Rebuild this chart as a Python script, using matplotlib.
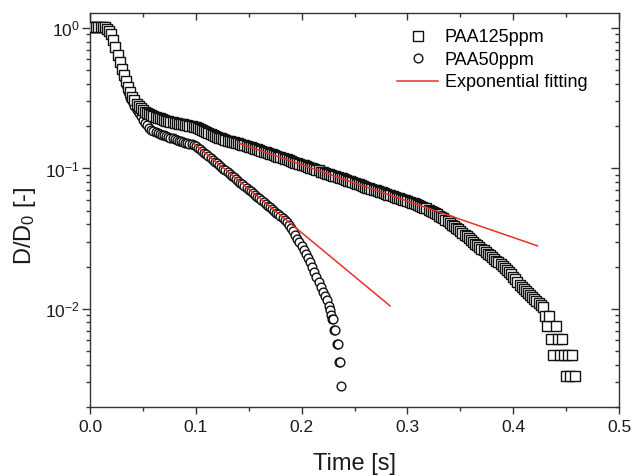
import matplotlib
matplotlib.use("Agg")
import matplotlib.pyplot as plt
from matplotlib.ticker import MultipleLocator, LogLocator, NullFormatter

plt.rcParams['font.family'] = ['Liberation Sans', 'DejaVu Sans']
plt.rcParams['mathtext.fontset'] = 'custom'
plt.rcParams['mathtext.rm'] = 'Liberation Sans'
plt.rcParams['mathtext.it'] = 'Liberation Sans:italic'

# PAA125ppm (squares): time in ms and D/D0
t_ms_125 = [
    0, 2, 4, 6, 8, 10, 12, 14, 16, 18, 20, 22, 24, 26, 28, 30, 32, 34, 36, 38,
    40, 42, 44, 46, 48, 50, 52, 54, 56, 58, 60, 62, 64, 66, 68, 70, 72, 74, 76, 78,
    80, 82, 84, 86, 88, 90, 92, 94, 96, 98, 100, 102, 104, 106, 108, 110, 112, 114, 116, 118,
    120, 122, 124, 126, 128, 130, 132, 134, 136, 138, 140, 142, 144, 146, 148, 150, 152, 154, 156, 158,
    160, 162, 164, 166, 168, 170, 172, 174, 176, 178, 180, 182, 184, 186, 188, 190, 192, 194, 196, 198,
    200, 202, 204, 206, 208, 210, 212, 214, 216, 218, 220, 222, 224, 226, 228, 230, 232, 234, 236, 238,
    240, 242, 244, 246, 248, 250, 252, 254, 256, 258, 260, 262, 264, 266, 268, 270, 272, 274, 276, 278,
    280, 282, 284, 286, 288, 290, 292, 294, 296, 298, 300, 302, 304, 306, 308, 310, 312, 314, 316, 318,
    320, 322, 324, 326, 328, 330, 332, 334, 336, 338, 340, 342, 344, 346, 348, 350, 352, 354, 356, 358,
    360, 362, 364, 366, 368, 370, 372, 374, 376, 378, 380, 382, 384, 386, 388, 390, 392, 394, 396, 398,
    400, 402, 404, 406, 408, 410, 412, 414, 416, 418, 420, 422, 424, 426, 428, 430, 432, 434, 436, 438,
    440, 442, 444, 446, 448, 450, 452, 454, 456, 458]
D_125 = [
    1.02, 1.02, 1.02, 1.02, 1.02, 1.02, 1.02, 1.01, 0.99, 0.96,
    0.90, 0.82, 0.73, 0.64, 0.57, 0.51, 0.46, 0.42, 0.38, 0.35,
    0.325, 0.305, 0.29, 0.278, 0.268, 0.260, 0.254, 0.249, 0.245, 0.241,
    0.237, 0.233, 0.230, 0.227, 0.224, 0.221, 0.219, 0.217, 0.215, 0.213,
    0.212, 0.210, 0.209, 0.207, 0.206, 0.204, 0.203, 0.201, 0.200, 0.198,
    0.196, 0.193, 0.191, 0.188, 0.185, 0.182, 0.179, 0.176, 0.173, 0.170,
    0.168, 0.166, 0.164, 0.162, 0.160, 0.158, 0.157, 0.155, 0.154, 0.153,
    0.152, 0.150, 0.148, 0.147, 0.145, 0.143, 0.142, 0.140, 0.138, 0.137,
    0.135, 0.133, 0.132, 0.130, 0.129, 0.127, 0.126, 0.124, 0.123, 0.121,
    0.120, 0.118, 0.117, 0.116, 0.114, 0.113, 0.111, 0.110, 0.109, 0.108,
    0.106, 0.105, 0.104, 0.103, 0.101, 0.100, 0.099, 0.098, 0.097, 0.095,
    0.094, 0.093, 0.092, 0.091, 0.090, 0.089, 0.088, 0.087, 0.086, 0.085,
    0.084, 0.083, 0.082, 0.081, 0.080, 0.079, 0.078, 0.077, 0.076, 0.075,
    0.074, 0.073, 0.0725, 0.0716, 0.0708, 0.0700, 0.0691, 0.0683, 0.0675, 0.0667,
    0.0659, 0.0651, 0.0643, 0.0636, 0.0628, 0.0621, 0.0613, 0.0606, 0.0599, 0.0592,
    0.0585, 0.0578, 0.0571, 0.0564, 0.0557, 0.0550, 0.0543, 0.0535, 0.0527, 0.0519,
    0.0510, 0.0501, 0.0492, 0.0482, 0.0472, 0.0462, 0.0452, 0.0442, 0.0431, 0.0420,
    0.0409, 0.0398, 0.0388, 0.0378, 0.0368, 0.0358, 0.0348, 0.0338, 0.0328, 0.0318,
    0.0309, 0.0300, 0.0292, 0.0284, 0.0276, 0.0268, 0.0261, 0.0254, 0.0247, 0.0240,
    0.0233, 0.0227, 0.0220, 0.0214, 0.0208, 0.0202, 0.0196, 0.0190, 0.0183, 0.0176,
    0.0169, 0.0162, 0.0155, 0.0149, 0.0143, 0.0138, 0.0133, 0.0129, 0.0125, 0.0121,
    0.0117, 0.0113, 0.0110, 0.0106, 0.0103, 0.0089, 0.0076, 0.0089, 0.0061, 0.0047,
    0.0076, 0.0061, 0.0047, 0.0061, 0.0047, 0.0033, 0.0047, 0.0033, 0.0047, 0.0033]

# PAA50ppm (circles)
t_ms_50 = [
    0, 2, 4, 6, 8, 10, 12, 14, 16, 18, 20, 22, 24, 26, 28, 30, 32, 34, 36, 38,
    40, 42, 44, 46, 48, 50, 52, 54, 56, 58, 60, 62, 64, 66, 68, 70, 72, 74, 76, 78,
    80, 82, 84, 86, 88, 90, 92, 94, 96, 98, 100, 102, 104, 106, 108, 110, 112, 114, 116, 118,
    120, 122, 124, 126, 128, 130, 132, 134, 136, 138, 140, 142, 144, 146, 148, 150, 152, 154, 156, 158,
    160, 162, 164, 166, 168, 170, 172, 174, 176, 178, 180, 182, 184, 186, 188, 190, 192, 194, 196, 198,
    200, 202, 204, 206, 208, 210, 212, 214, 216, 218, 220, 222, 224, 226, 227, 228, 229, 230, 231, 232,
    233, 234, 235, 236, 237]
D_50 = [
    1.02, 1.02, 1.02, 1.02, 1.02, 1.02, 1.02, 1.01, 0.99, 0.96,
    0.90, 0.82, 0.73, 0.64, 0.56, 0.50, 0.44, 0.39, 0.35, 0.32,
    0.30, 0.28, 0.262, 0.248, 0.235, 0.223, 0.212, 0.203, 0.195, 0.189,
    0.184, 0.181, 0.178, 0.176, 0.174, 0.172, 0.170, 0.168, 0.166, 0.164,
    0.162, 0.160, 0.158, 0.157, 0.155, 0.153, 0.151, 0.150, 0.149, 0.147,
    0.145, 0.141, 0.137, 0.133, 0.129, 0.126, 0.122, 0.119, 0.115, 0.112,
    0.109, 0.106, 0.103, 0.0997, 0.0969, 0.0941, 0.0915, 0.0889, 0.0863, 0.0839,
    0.0815, 0.0792, 0.0769, 0.0748, 0.0726, 0.0706, 0.0686, 0.0666, 0.0647, 0.0629,
    0.0611, 0.0594, 0.0577, 0.0560, 0.0544, 0.0529, 0.0514, 0.0499, 0.0485, 0.0471,
    0.0458, 0.0444, 0.0430, 0.0414, 0.0397, 0.0378, 0.0358, 0.0337, 0.0316, 0.0297,
    0.0280, 0.0263, 0.0246, 0.0231, 0.0216, 0.0200, 0.0184, 0.0170, 0.0156, 0.0144,
    0.0132, 0.0124, 0.0116, 0.0105, 0.0098, 0.0091, 0.0084, 0.0084, 0.0071, 0.0071,
    0.0056, 0.0056, 0.0042, 0.0042, 0.0028]

# exponential fits (end points of the drawn lines)
fit_t_125 = [0.140, 0.423]
fit_D_125 = [0.152, 0.0281]
fit_t_50 = [0.099, 0.2836]
fit_D_50 = [0.149, 0.0105]

t_125 = [v / 1000 for v in t_ms_125]
t_50 = [v / 1000 for v in t_ms_50]

fig = plt.figure(figsize=(6.32, 4.76), dpi=100)
ax = fig.add_axes([90/632, 1 - 407/476, 529/632, 394/476])

ax.plot(t_50, D_50, 'o', ms=6.3, mfc='white', mec='#111111', mew=1.0,
        label='PAA50ppm', zorder=2)
ax.plot(t_125, D_125, 's', ms=6.8, mfc='white', mec='#111111', mew=1.0,
        label='PAA125ppm', zorder=3)
ax.plot(fit_t_125, fit_D_125, '-', color='#e8302a', lw=1.1,
        label='Exponential fitting', zorder=4)
ax.plot(fit_t_50, fit_D_50, '-', color='#e8302a', lw=1.1, zorder=4)

ax.set_yscale('log')
ax.set_xlim(0, 0.5)
ax.set_ylim(0.002, 1.28)
ax.xaxis.set_major_locator(MultipleLocator(0.1))
ax.xaxis.set_minor_locator(MultipleLocator(0.05))
ax.yaxis.set_minor_locator(LogLocator(base=10, subs=range(2, 10)))
ax.yaxis.set_minor_formatter(NullFormatter())

for s in ax.spines.values():
    s.set_color('#333333')
    s.set_linewidth(1.0)

ax.tick_params(axis='both', which='both', colors='#333333', labelcolor='#1a1a1a',
               labelsize=12.5, width=1.0)
ax.tick_params(axis='x', which='major', direction='out', length=5, pad=4,
               top=True)
ax.tick_params(axis='x', which='minor', direction='out', length=3, top=True)
ax.tick_params(axis='y', which='major', direction='out', length=5.5, pad=2,
               right=True)
ax.tick_params(axis='y', which='minor', direction='out', length=3, right=True)
# top/right ticks point into the frame, same way as bottom/left ones
for tick in ax.xaxis.get_major_ticks() + ax.xaxis.get_minor_ticks():
    tick.tick2line.set_marker(3)
for tick in ax.yaxis.get_major_ticks() + ax.yaxis.get_minor_ticks():
    tick.tick2line.set_marker(0)

ax.set_xlabel('Time [s]', fontsize=17, color='#1a1a1a', labelpad=13)
ax.set_ylabel(r'D/D$_0$ [-]', fontsize=17, color='#1a1a1a')
ax.yaxis.set_label_coords(-0.098, 0.46)

h, l = ax.get_legend_handles_labels()
order = [1, 0, 2]
ax.legend([h[i] for i in order], [l[i] for i in order], loc='upper right',
          bbox_to_anchor=(0.971, 1.0), frameon=False, fontsize=13,
          handlelength=2.3, handletextpad=0.35, labelspacing=0.3,
          borderaxespad=0.5)

fig.savefig('out.png', dpi=100)
